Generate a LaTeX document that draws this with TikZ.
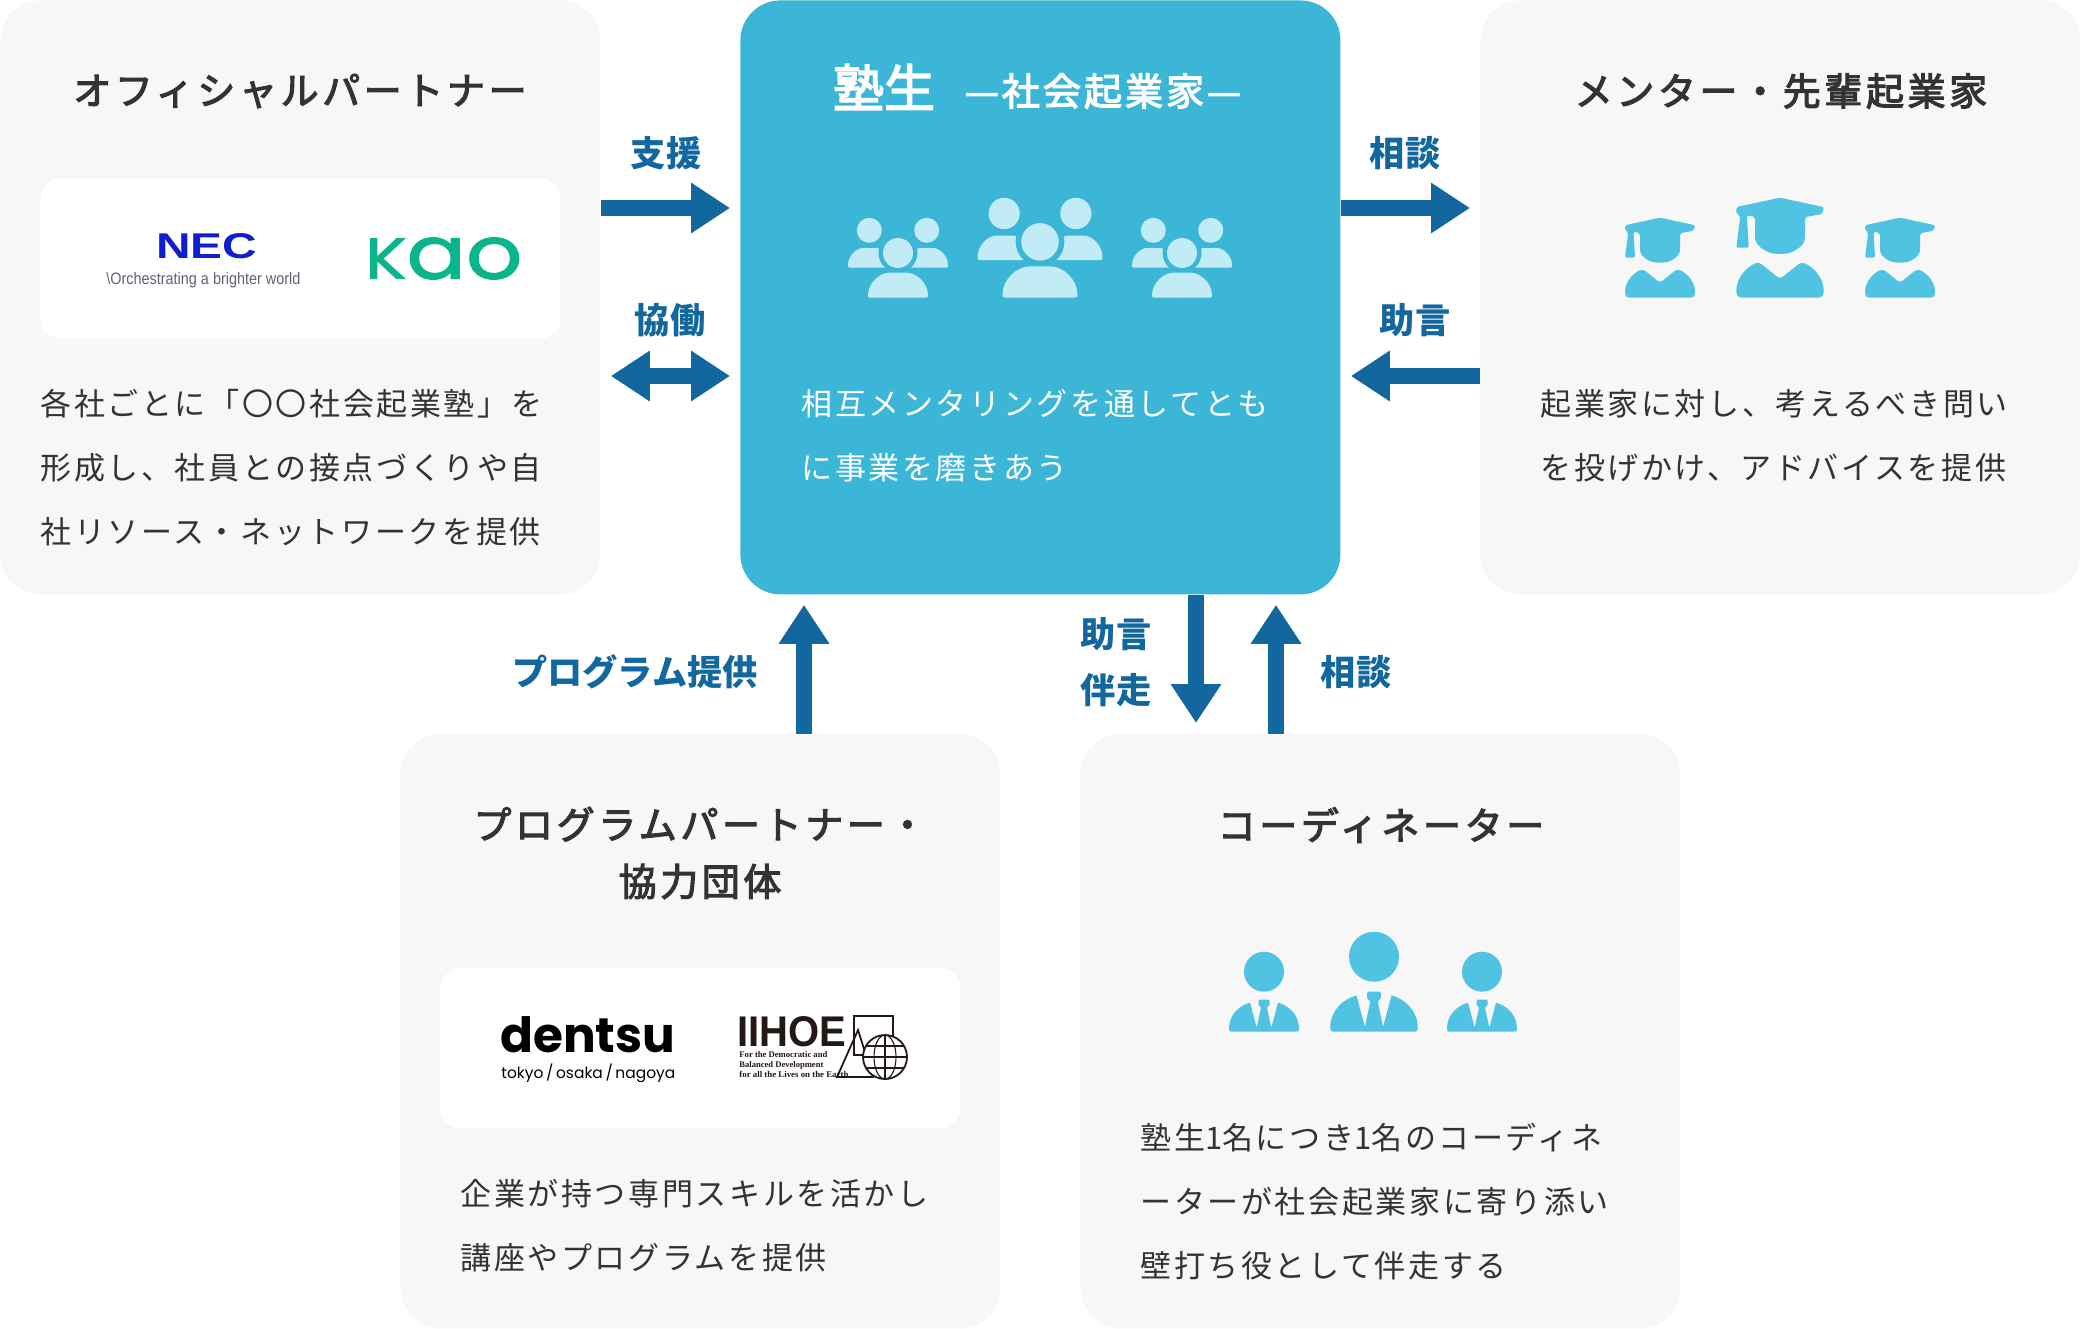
\documentclass[tikz,border=0pt]{standalone}
\usepackage{graphicx}
\usepackage{fontspec}
\setmainfont{Noto Sans CJK JP}
\newfontfamily\medfont[FakeBold=3]{Noto Sans CJK JP}
\newfontfamily\latinfont{Liberation Sans}
\newfontfamily\serifinfo{Liberation Serif}
\newfontfamily\logofont{Poppins}
\newfontfamily\kaofont[FakeBold=1.5]{Poppins}
\usetikzlibrary{arrows.meta}
\definecolor{panelbg}{HTML}{F7F7F7}
\definecolor{centerbg}{HTML}{3BB6D7}
\definecolor{paleic}{HTML}{C1EBF5}
\definecolor{iconblue}{HTML}{50C3E2}
\definecolor{arrowblue}{HTML}{12679F}
\definecolor{bodyink}{HTML}{333333}
\definecolor{necblue}{HTML}{0F1FCE}
\definecolor{necgray}{HTML}{5F6473}
\definecolor{kaogreen}{HTML}{0AB58C}
\definecolor{logoink}{HTML}{231815}
\tikzset{
  panel/.style={fill=panelbg,rounded corners=20pt,minimum width=300pt,minimum height=297pt,inner sep=0pt,anchor=north west},
  card/.style={fill=white,rounded corners=10pt,minimum width=260pt,minimum height=80pt,inner sep=0pt,anchor=north west},
  title/.style={text=bodyink,inner sep=0pt,align=center,font=\medfont\fontsize{19}{28.5}\selectfont\addfontfeature{LetterSpace=9.5}},
  bodytext/.style={text=bodyink,inner sep=0pt,anchor=west,align=left,font=\fontsize{15.5}{32}\selectfont\addfontfeature{LetterSpace=8.5}},
  flowlabel/.style={text=arrowblue,inner sep=0pt,align=center,font=\fontsize{17.6}{28}\selectfont\bfseries},
  flow/.style={draw=arrowblue,line width=8pt,-{Triangle[length=19.5pt,width=24pt]}},
  flowboth/.style={draw=arrowblue,line width=8pt,{Triangle[length=19.5pt,width=24pt]}-{Triangle[length=19.5pt,width=24pt]}},
  logo/.style={inner sep=0pt,anchor=west},
}
\newcommand{\dome}[2]{(-#1+2,0) -- (#1-2,0) .. controls (#1-.5,0) and (#1,-.7) .. (#1,-2.5) .. controls (#1,-#2*.6) and (#1*.6,-#2) .. (#1*.3,-#2) -- (-#1*.3,-#2) .. controls (-#1*.6,-#2) and (-#1,-#2*.6) .. (-#1,-2.5) .. controls (-#1,-.7) and (-#1+.5,0) .. cycle}
\newcommand{\groupicon}[3]{\begin{scope}[shift={(#1,#2)},scale=#3]
  \fill[paleic] (-28.7,-67.4) circle (12.5) (28.7,-67.4) circle (12.5);
  \begin{scope}[shift={(-28.7,-30)}]\fill[paleic] \dome{21.3}{19.7};\end{scope}
  \begin{scope}[shift={(28.7,-30)}]\fill[paleic] \dome{21.3}{19.7};\end{scope}
  \fill[centerbg] (0,-44.7) circle (19.5);
  \fill[paleic] (0,-44.7) circle (15);
  \fill[paleic] \dome{30}{25};
\end{scope}}
\newcommand{\gradicon}[3]{\begin{scope}[shift={(#1,#2)},scale=#3]
  \fill[iconblue,rounded corners=1pt] (0,-80) -- (35,-72.5) -- (34,-67) -- (20,-64.5) -- (20,-50) .. controls (20,-41) and (10,-35) .. (0,-35) .. controls (-10,-35) and (-20,-41) .. (-20,-50) -- (-20,-64.5) -- (-26.5,-66) -- (-25,-40) -- (-35,-40) -- (-31.7,-66) -- (-35,-67) -- (-35,-72.5) -- cycle;
  \fill[iconblue,rounded corners=1.5pt] (-33,0) -- (33,0) -- (35,-3) .. controls (35,-17) and (25,-26) .. (16.7,-28.3) -- (0,-15) -- (-16.7,-28.3) .. controls (-25,-26) and (-35,-17) .. (-35,-3) -- cycle;
\end{scope}}
\newcommand{\suiticon}[3]{\begin{scope}[shift={(#1,#2)},scale=#3]
  \fill[iconblue] (0,-60) circle (20);
  \fill[iconblue] (-32.5,0) -- (32.5,0) .. controls (34.5,0) and (35,-1) .. (35,-3) .. controls (35,-17) and (25,-26) .. (14,-29) -- (7.3,-4) -- (3,-24) -- (5.5,-27) -- (5.5,-31) -- (4.5,-32) -- (-4.5,-32) -- (-5.5,-31) -- (-5.5,-27) -- (-3,-24) -- (-7.3,-4) -- (-14,-29) .. controls (-25,-26) and (-35,-17) .. (-35,-3) .. controls (-35,-1) and (-34.5,0) .. (-32.5,0) -- cycle;
\end{scope}}
\begin{document}
\begin{tikzpicture}[x=0.5pt,y=-0.5pt]
\useasboundingbox (0,0) rectangle (2080,1328);
% panels
\node[panel] (partner) at (0,0) {};
\node[panel,fill=centerbg] (center) at (740,0) {};
\node[panel] (mentor) at (1480,0) {};
\node[panel] (program) at (400,734) {};
\node[panel] (coord) at (1080,734) {};
\node[card] (cardA) at (40,178) {};
\node[card] (cardB) at (440,968) {};
% titles
\node[title] (tPartner) at (300,91) {オフィシャルパートナー};
\node[title,text=white,font=\medfont\fontsize{25.5}{30}\selectfont] (tCenterA) at (884,87) {塾生};
\node[title,text=white,font=\medfont\fontsize{19}{30}\selectfont\addfontfeature{LetterSpace=8}] (tCenterB) at (1103,91) {—社会起業家—};
\node[title] (tMentor) at (1781,91) {メンター・先輩起業家};
\node[title] (tProgram) at (700,853) {プログラムパートナー・\\協力団体};
\node[title] (tCoord) at (1381,825) {コーディネーター};
% body
\node[bodytext] (bPartner) at (40,468) {各社ごとに「〇〇社会起業塾」を\\形成し、社員との接点づくりや自\\社リソース・ネットワークを提供};
\node[bodytext,text=white] (bCenter) at (801,436) {相互メンタリングを通してとも\\に事業を磨きあう};
\node[bodytext] (bMentor) at (1540,436) {起業家に対し、考えるべき問い\\を投げかけ、アドバイスを提供};
\node[bodytext] (bProgram) at (460,1226) {企業が持つ専門スキルを活かし\\講座やプログラムを提供};
\node[bodytext] (bCoord) at (1140,1202) {塾生\kern0pt 1\kern0pt 名につき\kern0pt 1\kern0pt 名のコーディネ\\ーターが社会起業家に寄り添い\\壁打ち役として伴走する};
% icons
\groupicon{898}{297.7}{1}\groupicon{1040}{297.7}{1.25}\groupicon{1182}{297.7}{1}
\gradicon{1660}{297.7}{1}\gradicon{1780}{297.7}{1.25}\gradicon{1900}{297.7}{1}
\suiticon{1264}{1031.7}{1}\suiticon{1374}{1031.7}{1.25}\suiticon{1482}{1031.7}{1}
% logos
\node[logo,text=necblue] (nec) at (156,246.5) {\resizebox{50.5pt}{12.5pt}{\latinfont\bfseries NEC}};
\node[logo,text=necgray] (necsub) at (106,280) {\scalebox{1}[1.15]{\resizebox{97pt}{!}{\latinfont\textbackslash Orchestrating a brighter world}}};
\node[logo,text=kaogreen] (kao) at (365,258.5) {\resizebox{78.5pt}{20.5pt}{\kaofont\scalebox{.78}{K}ao}};
\node[logo] (dentsu) at (500,1035) {\resizebox{87.5pt}{!}{\logofont\bfseries dentsu}};
\node[logo] (dentsusub) at (501,1073) {\resizebox{87pt}{!}{\logofont tokyo\,/\,osaka\,/\,nagoya}};
\begin{scope}[line width=.9pt,draw=logoink]
  \draw (854,1016) rectangle (893,1055);
  \draw[line join=miter] (858,1030) -- (873,1077) -- (837,1077) -- cycle;
  \draw[fill=white] (885,1057) circle (22);
  \begin{scope}
    \clip (885,1057) circle (22);
    \draw[line width=.55pt] (863,1057) -- (907,1057) (863,1046) -- (907,1046) (863,1068) -- (907,1068) (885,1035) -- (885,1079);
    \draw[line width=.55pt] (885,1057) ellipse (11 and 22);
  \end{scope}
\end{scope}
\node[logo,text=logoink] (iihoe) at (737,1032) {\resizebox{54.5pt}{15pt}{\latinfont\bfseries IIHOE}};
\node[logo,text=logoink] (il1) at (739,1055) {\resizebox{44pt}{!}{\serifinfo\bfseries For the Democratic and}};
\node[logo,text=logoink] (il2) at (739,1065) {\resizebox{42pt}{!}{\serifinfo\bfseries Balanced Development}};
\node[logo,text=logoink] (il3) at (739,1074.5) {\resizebox{54.5pt}{!}{\serifinfo\bfseries for all the Lives on the Earth}};
% connectors
\coordinate (rowA) at (0,208);
\coordinate (rowB) at (0,376);
\coordinate (colA) at (804,0);
\coordinate (colB) at (1196,0);
\coordinate (colC) at (1276,0);
\draw[flow,shorten >=5pt] (partner.east |- rowA) -- (center.west |- rowA);
\draw[flowboth,shorten <=5pt,shorten >=5pt] (partner.east |- rowB) -- (center.west |- rowB);
\draw[flow,shorten >=5pt] (center.east |- rowA) -- (mentor.west |- rowA);
\draw[flow,shorten >=5pt] (mentor.west |- rowB) -- (center.east |- rowB);
\draw[flow,shorten >=5pt] (colA |- program.north) -- (colA |- center.south);
\draw[flow,shorten >=5.5pt] (colB |- center.south) -- (colB |- coord.north);
\draw[flow,shorten >=5pt] (colC |- coord.north) -- (colC |- center.south);
% flow labels
\node[flowlabel] (lA) at (666,153) {支援};
\node[flowlabel] (lB) at (670,320) {協働};
\node[flowlabel] (lC) at (1405,153) {相談};
\node[flowlabel] (lD) at (1415,320) {助言};
\node[flowlabel] (lE) at (635,672) {プログラム提供};
\node[flowlabel] (lF) at (1116,662) {助言\\伴走};
\node[flowlabel] (lG) at (1356,672) {相談};
\end{tikzpicture}
\end{document}
